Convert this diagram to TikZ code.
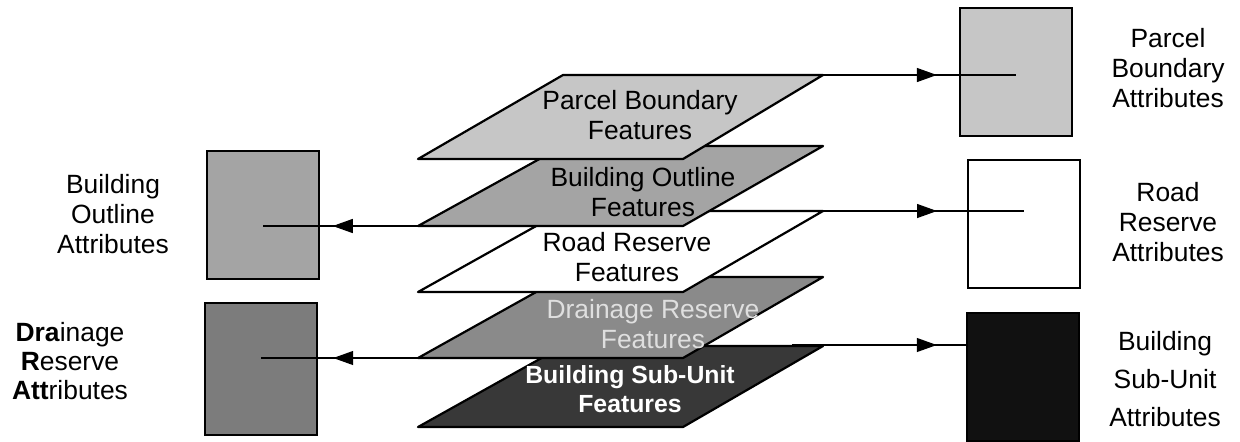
\documentclass[tikz,border=0pt]{standalone}
\usepackage{fontspec}
\setmainfont{Liberation Sans}
\usetikzlibrary{arrows.meta,decorations.markings,positioning}

\definecolor{parcelgray}{HTML}{C6C6C6}
\definecolor{outlinegray}{HTML}{A4A4A4}
\definecolor{draingray}{HTML}{8A8A8A}
\definecolor{drainbox}{HTML}{7C7C7C}
\definecolor{subgray}{HTML}{383838}
\definecolor{subbox}{HTML}{111111}

\tikzset{
  attrbox/.style={draw,line width=0.6pt,minimum width=56pt,minimum height=64pt,inner sep=0pt},
  layer/.style={draw,line width=1.1pt,line join=round},
  caption/.style={align=center,font=\fontsize{13.2}{15}\selectfont},
  link/.style={line width=0.6pt,postaction={decorate},
    decoration={markings,mark=at position #1 with {\arrow{Triangle[length=10pt,width=7pt]}}}},
}

\begin{document}
\begin{tikzpicture}[x=0.5pt,y=-0.5pt]
  \useasboundingbox (0,0) rectangle (1240,441);

  % feature layers, lowest first
  \draw[layer,fill=subgray] (418,427)--(683,427)--(823,346)--(563,346)--cycle;
  \node[caption,text=white,font=\fontsize{12.4}{14.5}\selectfont\bfseries] (subtxt) at (630,389) {Building Sub-Unit\\Features};
  \draw[layer,fill=draingray] (418,358)--(683,358)--(823,277)--(563,277)--cycle;
  \node[caption,text=gray!25] (drtxt) at (653,324) {Drainage Reserve\\Features};
  \draw[layer,fill=white] (418,292)--(683,292)--(823,211)--(563,211)--cycle;
  \node[caption] (rrtxt) at (627,257) {Road Reserve\\Features};
  \draw[layer,fill=outlinegray] (418,226)--(683,226)--(823,146)--(563,146)--cycle;
  \node[caption] (botxt) at (643,192) {Building Outline\\Features};
  \draw[layer,fill=parcelgray] (418,159)--(683,159)--(823,75)--(563,75)--cycle;
  \node[caption] (pbtxt) at (640,115) {Parcel Boundary\\Features};

  % where the links leave the layers
  \coordinate (pbout) at (823,75);
  \coordinate (rrout) at (792,211);
  \coordinate (subout) at (792,345);
  \coordinate (boout) at (418,226);
  \coordinate (drout) at (418,358);

  % attribute tables
  \node[attrbox,fill=parcelgray] (pbbox) at (1016,72) {};
  \node[attrbox,fill=white] (rrbox) at (1024,224) {};
  \node[attrbox,fill=subbox] (subbox) at (1023,377) {};
  \node[attrbox,fill=outlinegray] (bobox) at (263,215) {};
  \node[attrbox,fill=drainbox,minimum height=66pt] (drbox) at (261,369) {};

  \node[caption] (pblab) at (1168,68) {Parcel\\Boundary\\Attributes};
  \node[caption] (rrlab) at (1168,222) {Road\\Reserve\\Attributes};
  \node[caption,font=\fontsize{13.2}{19}\selectfont] (sublab) at (1165,379) {Building\\Sub-Unit\\Attributes};
  \node[caption] (bolab) at (113,214) {Building\\Outline\\Attributes};
  \node[caption,font=\fontsize{13.2}{14.5}\selectfont] (drlab) at (70,361) {\textbf{Dra}inage\\\textbf{R}eserve\\\textbf{Att}ributes};

  % links
  \draw[link=0.59] (pbout) -- (pbbox.center |- pbout);
  \draw[link=0.625] (rrout) -- (rrbox.center |- rrout);
  \draw[link=0.83] (subout) -- (subbox.west |- subout);
  \draw[link=0.55] (boout) -- (bobox.center |- boout);
  \draw[link=0.54] (drout) -- (drbox.center |- drout);
\end{tikzpicture}
\end{document}
